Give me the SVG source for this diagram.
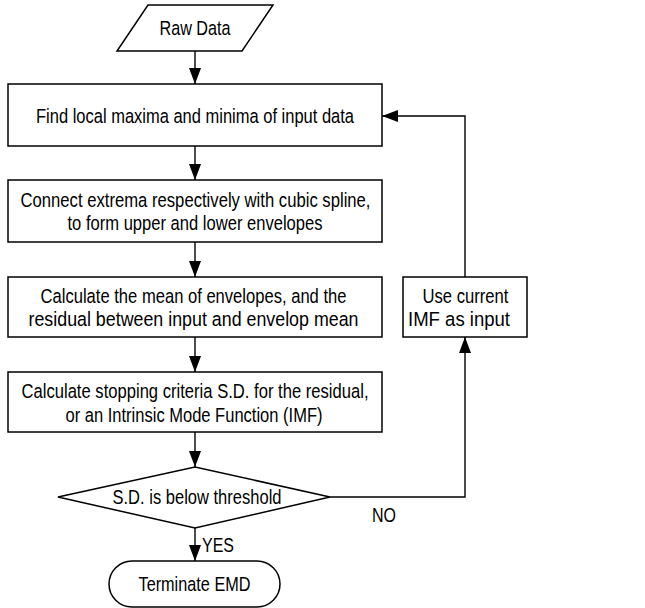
<svg xmlns="http://www.w3.org/2000/svg" width="645" height="608" viewBox="0 0 645 608">
  <style>
    .shape { fill: #ffffff; stroke: #000000; stroke-width: 1.5; }
    .edge { fill: none; stroke: #000000; stroke-width: 1.4; }
    .label { font-family: "Liberation Sans", Arial, sans-serif; font-size: 20.5px; fill: #000000; text-anchor: middle; }
    .tag { font-family: "Liberation Sans", Arial, sans-serif; font-size: 20.5px; fill: #000000; }
  </style>
  <defs>
    <marker id="arrow" markerUnits="userSpaceOnUse" markerWidth="17" markerHeight="13" refX="16" refY="6" orient="auto">
      <path d="M0,0 L16,6 L0,12 z" fill="#000000"/>
    </marker>
  </defs>
  <rect width="645" height="608" fill="#ffffff"/>

  <!-- connectors -->
  <g id="connectors">
    <line class="edge" x1="195" y1="51" x2="195" y2="84" marker-end="url(#arrow)"/>
    <line class="edge" x1="195" y1="146" x2="195" y2="180" marker-end="url(#arrow)"/>
    <line class="edge" x1="195" y1="242" x2="195" y2="277" marker-end="url(#arrow)"/>
    <line class="edge" x1="195" y1="337" x2="195" y2="372" marker-end="url(#arrow)"/>
    <line class="edge" x1="195" y1="432" x2="195" y2="467" marker-end="url(#arrow)"/>
    <line class="edge" x1="195" y1="528" x2="195" y2="561" marker-end="url(#arrow)"/>
    <polyline class="edge" points="330,497 465,497 465,337" marker-end="url(#arrow)"/>
    <polyline class="edge" points="465,277 465,116 382,116" marker-end="url(#arrow)"/>
    <text class="tag" x="372" y="522" textLength="24" lengthAdjust="spacingAndGlyphs">NO</text>
    <text class="tag" x="202" y="552" textLength="32" lengthAdjust="spacingAndGlyphs">YES</text>
  </g>

  <!-- input -->
  <g id="raw-data">
    <polygon class="shape" points="148,5 273,5 242,51 117,51"/>
    <text class="label" x="195" y="35" textLength="71" lengthAdjust="spacingAndGlyphs">Raw Data</text>
  </g>

  <!-- sifting steps -->
  <g id="find-extrema">
    <rect class="shape" x="8" y="84" width="374" height="62"/>
    <text class="label" x="195" y="122.5" textLength="318" lengthAdjust="spacingAndGlyphs">Find local maxima and minima of input data</text>
  </g>

  <g id="envelopes">
    <rect class="shape" x="8" y="180" width="374" height="62"/>
    <text class="label" x="195.5" y="207" textLength="350" lengthAdjust="spacingAndGlyphs">Connect extrema respectively with cubic spline,</text>
    <text class="label" x="195" y="230" textLength="255" lengthAdjust="spacingAndGlyphs">to form upper and lower envelopes</text>
  </g>

  <g id="mean-residual">
    <rect class="shape" x="8" y="277" width="374" height="60"/>
    <text class="label" x="193.5" y="303" textLength="306" lengthAdjust="spacingAndGlyphs">Calculate the mean of envelopes, and the</text>
    <text class="label" x="193.5" y="326" textLength="330" lengthAdjust="spacingAndGlyphs">residual between input and envelop mean</text>
  </g>

  <g id="stopping-criteria">
    <rect class="shape" x="8" y="372" width="374" height="60"/>
    <text class="label" x="195" y="398" textLength="347" lengthAdjust="spacingAndGlyphs">Calculate stopping criteria S.D. for the residual,</text>
    <text class="label" x="194" y="422" textLength="257" lengthAdjust="spacingAndGlyphs">or an Intrinsic Mode Function (IMF)</text>
  </g>

  <g id="use-imf">
    <rect class="shape" x="403" y="277" width="124" height="60"/>
    <text class="label" x="465.5" y="303" textLength="86" lengthAdjust="spacingAndGlyphs">Use current</text>
    <text class="label" x="459" y="326" textLength="102" lengthAdjust="spacingAndGlyphs">IMF as input</text>
  </g>

  <!-- decision -->
  <g id="threshold-check">
    <polygon class="shape" points="58,497 195,467 330,497 195,528"/>
    <text class="label" x="197" y="503.5" textLength="169" lengthAdjust="spacingAndGlyphs">S.D. is below threshold</text>
  </g>

  <!-- end -->
  <g id="terminate">
    <rect class="shape" x="109" y="561" width="171" height="46" rx="23" ry="23"/>
    <text class="label" x="194.5" y="591" textLength="112" lengthAdjust="spacingAndGlyphs">Terminate EMD</text>
  </g>
</svg>
